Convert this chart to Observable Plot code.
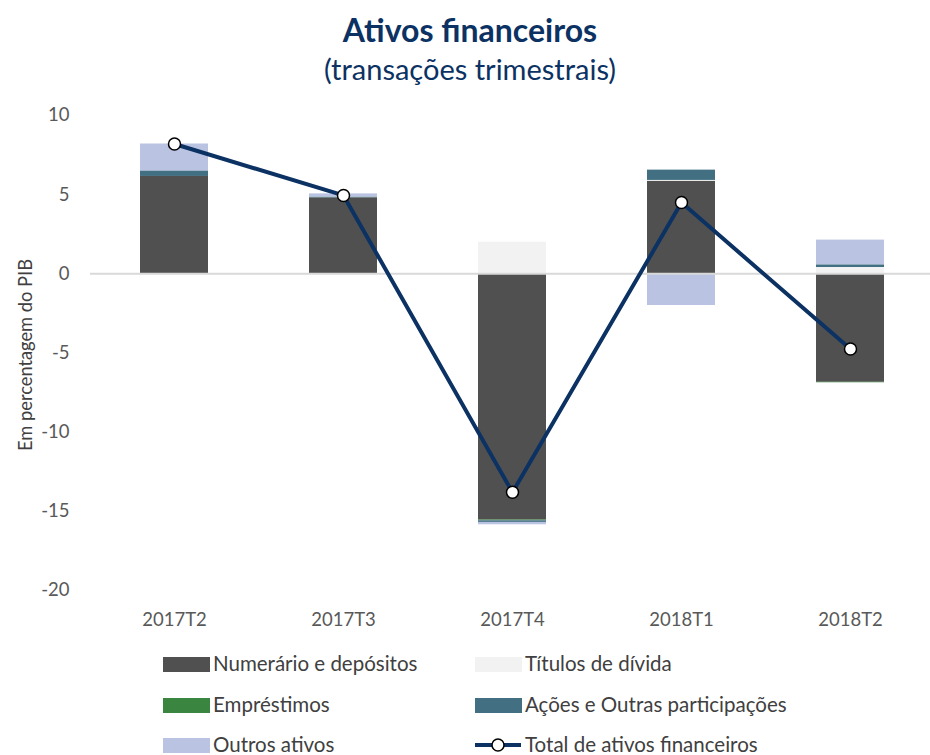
<!DOCTYPE html>
<html>
<head>
<meta charset="utf-8">
<script src="https://cdn.jsdelivr.net/npm/d3@7"></script>
<script src="https://cdn.jsdelivr.net/npm/@observablehq/plot@0.6"></script>
<style>
  body { margin: 0; background: #fff; font-family: Lato, "Open Sans", sans-serif; }
  #wrap { position: relative; width: 930px; height: 755px; overflow: hidden; }
  .title { position: absolute; left: 0; width: 940px; text-align: center; color: #0b3263; line-height: 1.2; }
  #chart { position: absolute; left: 0; top: 95px; }
  .leg { position: absolute; font-size: 20.5px; color: #404040; white-space: nowrap; line-height: 1; }
  .sw { position: absolute; width: 47px; height: 15px; }
  .ylab { position: absolute; left: 25px; top: 355px; transform: translate(-50%, -50%) rotate(-90deg); font-size: 18.3px; color: #404040; white-space: nowrap; }
</style>
</head>
<body>
<div id="wrap">
  <div class="title" style="top:11px; font-size:32px; font-weight:700;">Ativos financeiros</div>
  <div class="title" style="top:52px; font-size:29px;">(transações trimestrais)</div>
  <div class="ylab">Em percentagem do PIB</div>
  <div id="chart"></div>
  <div id="legend"></div>
</div>
<script>
const categories = ["2017T2", "2017T3", "2017T4", "2018T1", "2018T2"];
const seriesNames = ["Numerário e depósitos", "Títulos de dívida", "Empréstimos", "Ações e Outras participações", "Outros ativos"];
const seriesColors = ["#505050", "#f2f2f2", "#3a8540", "#436f82", "#bac4e2"];
const numerario = [6.15, 4.8, -15.55, 5.85, -6.85];
const titulos = [0.0, -0.05, 2.0, 0.05, 0.4];
const emprestimos = [0.0, 0.0, -0.05, 0.0, -0.03];
const acoes = [0.35, 0.05, -0.1, 0.65, 0.17];
const outros = [1.7, 0.2, -0.15, -2.0, 1.56];
const totalName = "Total de ativos financeiros";
const total = [8.2, 4.95, -13.8, 4.5, -4.75];
const yTicks = [10, 5, 0, -5, -10, -15, -20];

const seriesValues = [numerario, titulos, emprestimos, acoes, outros];
const rows = [];
seriesNames.forEach((s, i) => categories.forEach((c, j) => rows.push({cat: c, series: s, value: seriesValues[i][j]})));
const totals = categories.map((c, j) => ({cat: c, value: total[j]}));

const chart = Plot.plot({
  width: 930,
  height: 545,
  marginTop: 20,
  marginBottom: 50,
  marginLeft: 90,
  marginRight: 0,
  style: {fontFamily: "Lato, 'Open Sans', sans-serif", fontSize: "18.5px", color: "#595959", background: "transparent"},
  x: {domain: categories, paddingInner: 0.6, paddingOuter: 0.285, align: 0.52, label: null, tickSize: 0, tickPadding: 22},
  y: {domain: [-20, 10], ticks: yTicks, label: null, tickSize: 0, tickPadding: 21, tickFormat: d => d < 0 ? "-" + Math.abs(d) : d},
  color: {domain: seriesNames, range: seriesColors},
  marks: [
    Plot.barY(rows, {x: "cat", y: "value", fill: "series"}),
    Plot.ruleY([0], {stroke: "#d9d9d9", strokeWidth: 2}),
    Plot.line(totals, {x: "cat", y: "value", stroke: "#0b3263", strokeWidth: 4}),
    Plot.dot(totals, {x: "cat", y: "value", r: 6, fill: "white", stroke: "black", strokeWidth: 1.5})
  ]
});
document.getElementById("chart").appendChild(chart);

// legend
const leg = document.getElementById("legend");
const legItems = [
  {name: seriesNames[0], color: seriesColors[0], x: 163, y: 664},
  {name: seriesNames[1], color: seriesColors[1], x: 475, y: 664},
  {name: seriesNames[2], color: seriesColors[2], x: 163, y: 705},
  {name: seriesNames[3], color: seriesColors[3], x: 475, y: 705},
  {name: seriesNames[4], color: seriesColors[4], x: 163, y: 745}
];
legItems.forEach(it => {
  const sw = document.createElement("div");
  sw.className = "sw";
  sw.style.left = it.x + "px";
  sw.style.top = (it.y - 7) + "px";
  sw.style.background = it.color;
  leg.appendChild(sw);
  const t = document.createElement("div");
  t.className = "leg";
  t.style.left = (it.x + 50) + "px";
  t.style.top = (it.y - 11) + "px";
  t.textContent = it.name;
  leg.appendChild(t);
});
const ls = document.createElementNS("http://www.w3.org/2000/svg", "svg");
ls.setAttribute("width", 50); ls.setAttribute("height", 20);
ls.style.position = "absolute"; ls.style.left = "473px"; ls.style.top = (745 - 10) + "px";
ls.innerHTML = '<line x1="2" x2="48" y1="10" y2="10" stroke="#0b3263" stroke-width="4"/><circle cx="25" cy="10" r="6" fill="white" stroke="black" stroke-width="1.5"/>';
leg.appendChild(ls);
const lt = document.createElement("div");
lt.className = "leg";
lt.style.left = "525px"; lt.style.top = (745 - 11) + "px";
lt.textContent = totalName;
leg.appendChild(lt);
</script>
</body>
</html>
